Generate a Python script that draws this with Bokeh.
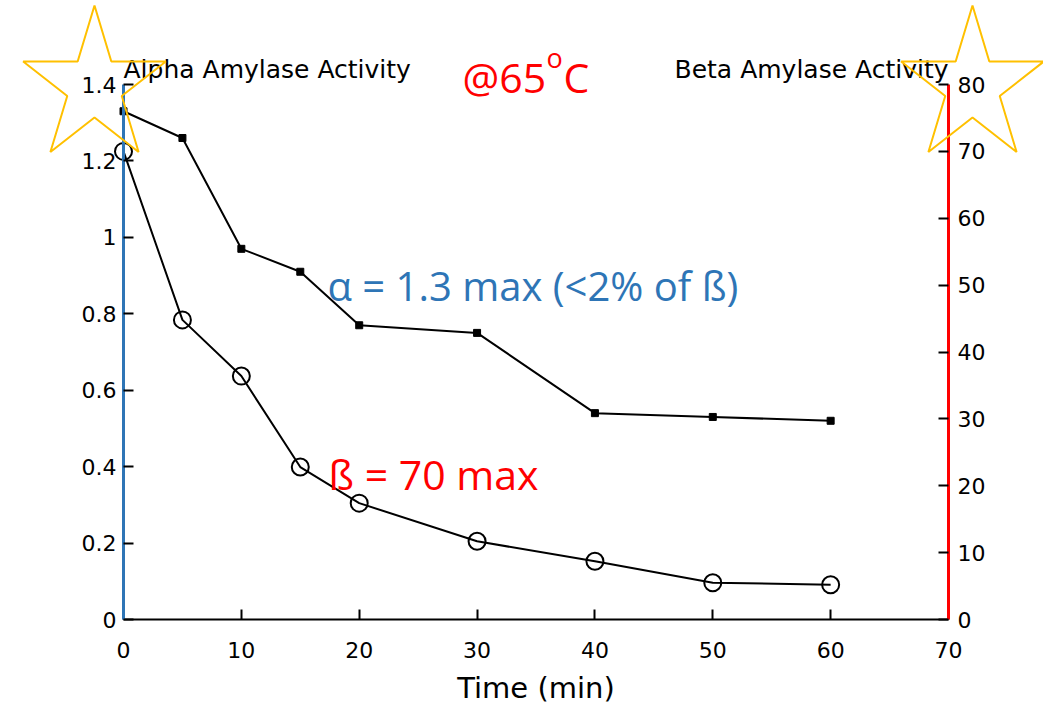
import math

from bokeh.embed import file_html
from bokeh.models import (FixedTicker, Label, LinearAxis, NumeralTickFormatter,
                          PolyAnnotation, Range1d)
from bokeh.plotting import figure
from bokeh.resources import INLINE

# Heat inactivation of amylases at 65 C
time_min = [0, 5, 10, 15, 20, 30, 40, 50, 60]
alpha_activity = [1.33, 1.26, 0.97, 0.91, 0.77, 0.75, 0.54, 0.53, 0.52]
beta_activity = [70, 44.8, 36.4, 22.8, 17.4, 11.7, 8.7, 5.5, 5.2]

time_ticks = [0, 10, 20, 30, 40, 50, 60, 70]
alpha_ticks = [0, 0.2, 0.4, 0.6, 0.8, 1.0, 1.2, 1.4]
beta_ticks = [0, 10, 20, 30, 40, 50, 60, 70, 80]

W, H = 1043, 704
# pixel box of the plotted area inside the canvas
BOX_L, BOX_R, BOX_T, BOX_B = 123, 948, 84, 619
X_MAX, A_MAX, B_MAX = 70, 1.4, 80

BLUE = "#2E75B6"
RED = "#FF0000"
GOLD = "#FFC000"
TICK_FONT = "DejaVu Sans"
NOTE_FONT = "Open Sans"


def padded_range(top_val, lo_px, hi_px, size_px):
    # extend [0, top_val] so that it fills the whole canvas dimension
    per_px = top_val / (hi_px - lo_px)
    return Range1d(-lo_px * per_px, top_val + (size_px - hi_px) * per_px)


x_range = padded_range(X_MAX, BOX_L, BOX_R, W)
y_range = padded_range(A_MAX, H - BOX_B, H - BOX_T, H)
beta_range = padded_range(B_MAX, H - BOX_B, H - BOX_T, H)

p = figure(width=W, height=H, output_backend="svg", toolbar_location=None,
           x_range=x_range, y_range=y_range,
           x_axis_location=None, y_axis_location=None,
           min_border=0, min_border_left=0, min_border_right=0,
           min_border_top=0, min_border_bottom=0)
p.title.visible = False
p.extra_y_ranges = {"beta": beta_range}
p.grid.visible = False
p.outline_line_color = None
p.background_fill_color = "white"
p.border_fill_color = "white"


def style_axis(ax, line_color, line_width, standoff):
    ax.axis_line_color = line_color
    ax.axis_line_width = line_width
    ax.major_tick_in = 10
    ax.major_tick_out = 0
    ax.major_tick_line_color = "black"
    ax.major_tick_line_width = 2
    ax.minor_tick_line_color = None
    ax.major_label_text_font = TICK_FONT
    ax.major_label_text_font_size = "22px"
    ax.major_label_text_color = "black"
    ax.major_label_standoff = standoff


xax = LinearAxis(fixed_location=0, bounds=(0, X_MAX))
style_axis(xax, "black", 2, 22)
xax.ticker = FixedTicker(ticks=time_ticks)
xax.axis_label = "Time (min)"
xax.axis_label_text_font = TICK_FONT
xax.axis_label_text_font_size = "29px"
xax.axis_label_text_font_style = "normal"
xax.axis_label_text_color = "black"
xax.axis_label_standoff = 10
p.add_layout(xax, "below")

yax = LinearAxis(fixed_location=0, bounds=(0, A_MAX))
style_axis(yax, BLUE, 3, 7)
yax.ticker = FixedTicker(ticks=alpha_ticks)
yax.formatter = NumeralTickFormatter(format="0.[0]")
p.add_layout(yax, "left")

rax = LinearAxis(fixed_location=X_MAX, y_range_name="beta", bounds=(0, B_MAX))
style_axis(rax, RED, 3, 9)
rax.ticker = FixedTicker(ticks=beta_ticks)
p.add_layout(rax, "right")

# alpha amylase (left scale): small filled squares
p.line(time_min, alpha_activity, line_color="black", line_width=2)
p.scatter(time_min, alpha_activity, marker="square", size=7, color="black")

# beta amylase (right scale): open circles
p.line(time_min, beta_activity, y_range_name="beta", line_color="black", line_width=2)
p.scatter(time_min, beta_activity, y_range_name="beta", marker="circle", size=17,
          fill_color=None, line_color="black", line_width=2)


# screen-unit annotations are measured from the lower-left corner of the canvas
def sy(py):
    return H - py


def add_text(text, px, py, size, color, font, align="left"):
    p.add_layout(Label(x=px, y=sy(py), x_units="screen", y_units="screen",
                       text=text, text_font=font, text_font_size=size,
                       text_color=color, text_align=align,
                       text_baseline="alphabetic"))


add_text("Alpha Amylase Activity", 123, 69, "25px", "black", TICK_FONT)
add_text("Beta Amylase Activity", 948, 69, "25px", "black", TICK_FONT, align="right")
add_text("@65", 462, 76, "41px", RED, NOTE_FONT)
add_text("o", 546, 57, "27px", RED, NOTE_FONT)
add_text("C", 563, 76, "41px", RED, NOTE_FONT)
add_text("\u03b1 = 1.3 max (<2% of \u00df)", 327, 285, "40px", BLUE, NOTE_FONT)
add_text("\u00df = 70 max", 328, 473, "41px", RED, NOTE_FONT)


def star(cx, cy, rx, ry):
    xs, ys = [], []
    for k in range(10):
        ang = math.pi / 2 - k * math.pi / 5
        f = 1.0 if k % 2 == 0 else 0.382
        xs.append(cx + rx * f * math.cos(ang))
        ys.append(sy(cy - ry * f * math.sin(ang)))
    return xs, ys


for cx in (94, 972):
    xs, ys = star(cx, 86, 75, 81)
    p.add_layout(PolyAnnotation(xs=xs, ys=ys, xs_units="screen", ys_units="screen",
                                fill_color=None, fill_alpha=0,
                                line_color=GOLD, line_alpha=1.0, line_width=2))

open("out.html", "w").write(file_html(p, INLINE))
